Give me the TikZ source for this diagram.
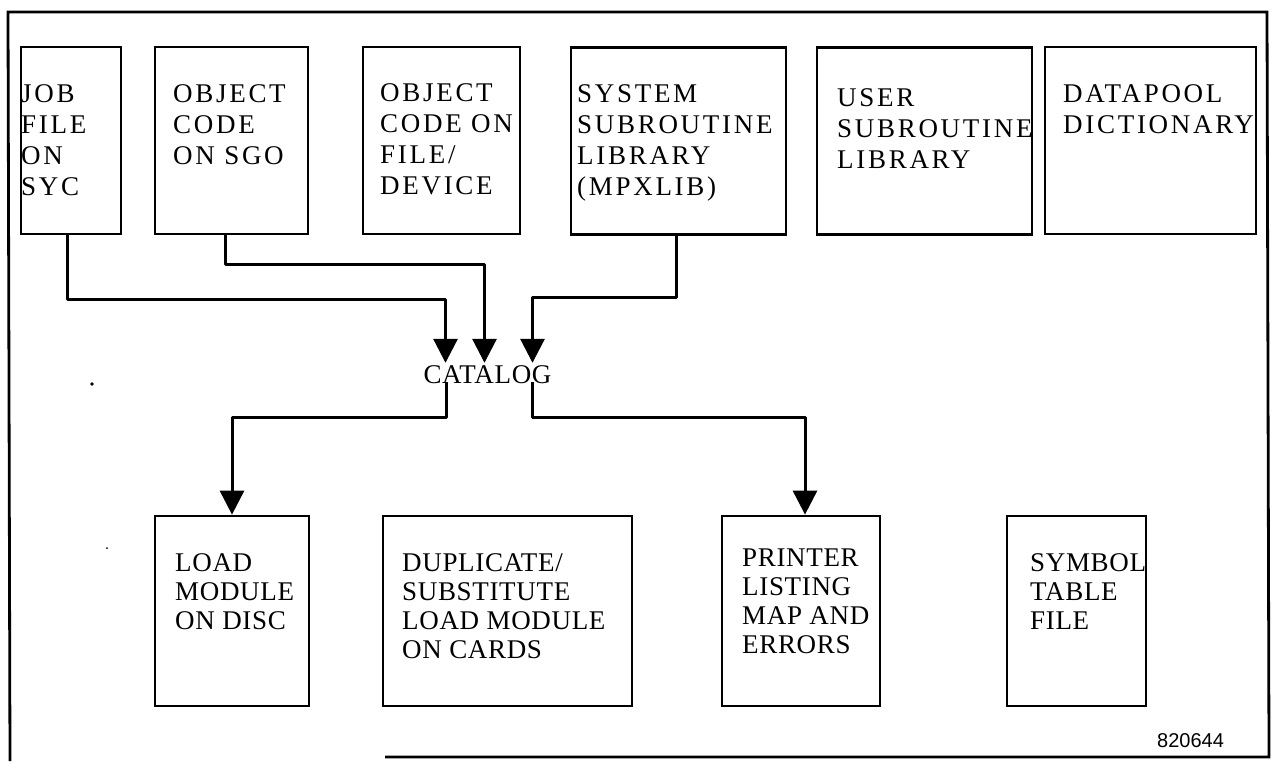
\documentclass[tikz,border=0pt]{standalone}
\usepackage{fontspec}
\setmainfont{Liberation Serif}
\newfontfamily\boxfont[LetterSpace=10]{Liberation Serif}
\newfontfamily\bboxfont[LetterSpace=2.5]{Liberation Serif}
\newfontfamily\numfont{Liberation Sans}
\usetikzlibrary{arrows.meta}
\tikzset{
  box/.style={draw, line width=2.8pt, inner sep=0pt},
  txt/.style={font=\boxfont\fontsize{27pt}{31pt}\selectfont, align=left, anchor=north west, inner sep=0pt},
  btxt/.style={txt, font=\bboxfont\fontsize{27pt}{29pt}\selectfont},
  conn/.style={line width=3pt, line join=round},
  arr/.style={conn, -{Triangle[length=24pt,width=24pt]}},
  frame/.style={line width=2.8pt}
}
\begin{document}
\begin{tikzpicture}[x=1pt,y=-1pt]
\useasboundingbox (0,0) rectangle (1274,761);
% outer frame
\draw[frame] (10,761) -- (8,12) -- (1267,12) -- (1269,757) -- (385,757);
% top row boxes
\node[box, minimum width=100pt, minimum height=187pt] (job) at (71,140.5) {};
\node[box, minimum width=153pt, minimum height=187pt] (obj) at (231.5,140.5) {};
\node[box, minimum width=157pt, minimum height=187pt] (dev) at (441.5,140.5) {};
\node[box, minimum width=215pt, minimum height=187pt] (sys) at (678.5,141) {};
\node[box, minimum width=215pt, minimum height=187pt] (usr) at (924.5,141) {};
\node[box, minimum width=211pt, minimum height=187pt] (dpl) at (1150.5,140.5) {};
% bottom row boxes
\node[box, minimum width=154pt, minimum height=190pt] (load) at (232,611) {};
\node[box, minimum width=249pt, minimum height=190pt] (dup) at (507.5,611) {};
\node[box, minimum width=158pt, minimum height=190pt] (prn) at (801,611) {};
\node[box, minimum width=139pt, minimum height=190pt] (sym) at (1076.5,611) {};
% texts
\node[txt] (tjob) at (21,84) {JOB\\FILE\\ON\\SYC};
\node[txt] (tobj) at (173,84) {OBJECT\\CODE\\ON SGO};
\node[txt] (tdev) at (380,83) {OBJECT\\CODE ON\\FILE/\\DEVICE};
\node[txt] (tsys) at (577,84) {SYSTEM\\SUBROUTINE\\LIBRARY\\(MPXLIB)};
\node[txt] (tusr) at (837,88) {USER\\SUBROUTINE\\LIBRARY};
\node[txt] (tdpl) at (1063,84) {DATAPOOL\\DICTIONARY};
\node[btxt] (tload) at (175,553) {LOAD\\MODULE\\ON DISC};
\node[btxt] (tdup) at (402,553) {DUPLICATE/\\SUBSTITUTE\\LOAD MODULE\\ON CARDS};
\node[btxt] (tprn) at (742,549) {PRINTER\\LISTING\\MAP AND\\ERRORS};
\node[btxt] (tsym) at (1030,553) {SYMBOL\\TABLE\\FILE};
% catalog
\node[font=\bboxfont\fontsize{27pt}{27pt}\selectfont, text height=18pt, text depth=0pt, inner sep=2pt] (cat) at (487.5,374) {CATALOG};
% connectors
\draw[arr] ([xshift=-4pt]job.south) -- ++(0,64) -| ([xshift=-42pt]cat.north);
\draw[arr] ([xshift=-6pt]obj.south) -- ++(0,29) -| ([xshift=-3pt]cat.north);
\draw[arr] ([xshift=-2pt]sys.south) -- ++(0,62) -| ([xshift=45pt]cat.north);
\draw[arr] ([xshift=-41pt,yshift=3pt]cat.south) -- ++(0,35) -| (load.north);
\draw[arr] ([xshift=45pt,yshift=3pt]cat.south) -- ++(0,35) -| ([xshift=4pt]prn.north);
% label
\node[font=\numfont\fontsize{20pt}{20pt}\selectfont, anchor=base west, inner sep=0pt] (num) at (1157,747) {820644};
% specks
\fill (92,384) circle (1.8pt);
\fill (107,548) circle (1pt);
\end{tikzpicture}
\end{document}
